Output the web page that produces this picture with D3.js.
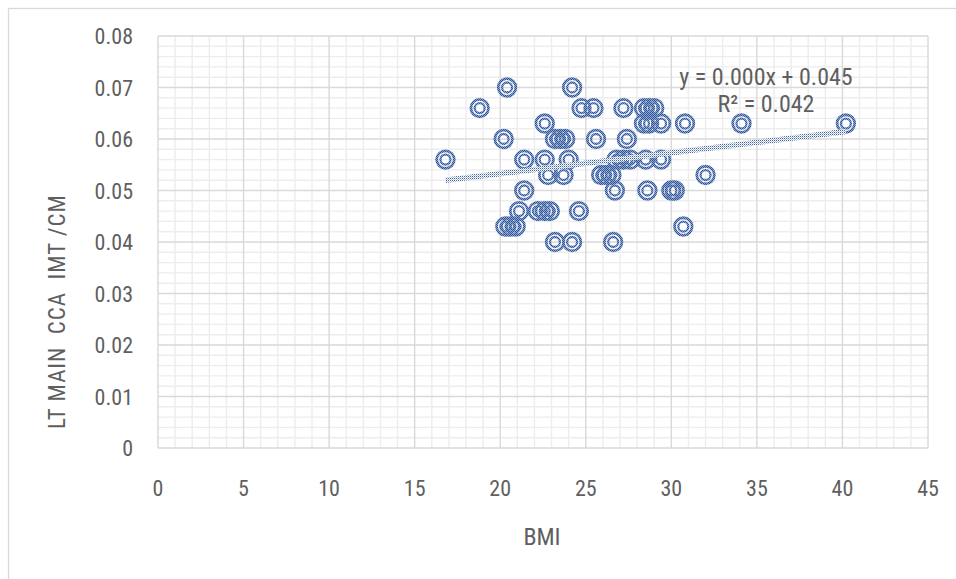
<!DOCTYPE html>
<html>
<head>
<meta charset="utf-8">
<script src="https://cdn.jsdelivr.net/npm/d3@7"></script>
<style>
  html, body { margin: 0; padding: 0; background: #fff; }
  svg { display: block; }
  text { font-family: "Liberation Sans Narrow", "Roboto Condensed", "Arial Narrow", Roboto, sans-serif; fill: #5f5f5f; white-space: pre; font-weight: 400; }
</style>
</head>
<body>
<svg id="chart" width="956" height="579"></svg>
<script>
// ---- data ----
const bmi = [
  20.4, 24.2,
  18.8, 24.75, 25.45, 27.2, 28.4, 28.7, 29.0,
  22.6, 28.4, 28.7, 29.4, 30.8, 34.1, 40.2,
  20.2, 23.2, 23.5, 23.8, 25.6, 27.4,
  16.8, 21.4, 22.6, 24.0, 26.8, 27.2, 27.6, 28.5, 29.4,
  22.8, 23.7, 25.9, 26.2, 26.5, 32.0,
  21.4, 26.7, 28.6, 30.0, 30.2,
  21.1, 22.2, 22.6, 22.9, 24.6,
  20.3, 20.6, 20.9, 30.7,
  23.2, 24.2, 26.6
];
const imt = [
  0.070, 0.070,
  0.066, 0.066, 0.066, 0.066, 0.066, 0.066, 0.066,
  0.063, 0.063, 0.063, 0.063, 0.063, 0.063, 0.063,
  0.060, 0.060, 0.060, 0.060, 0.060, 0.060,
  0.056, 0.056, 0.056, 0.056, 0.056, 0.056, 0.056, 0.056, 0.056,
  0.053, 0.053, 0.053, 0.053, 0.053, 0.053,
  0.050, 0.050, 0.050, 0.050, 0.050,
  0.046, 0.046, 0.046, 0.046, 0.046,
  0.043, 0.043, 0.043, 0.043,
  0.040, 0.040, 0.040
];
const xTicks = [0, 5, 10, 15, 20, 25, 30, 35, 40, 45];
const yTicks = [0, 0.01, 0.02, 0.03, 0.04, 0.05, 0.06, 0.07, 0.08];
const yTickLabels = ["0", "0.01", "0.02", "0.03", "0.04", "0.05", "0.06", "0.07", "0.08"];
const trendSlope = 0.000404;
const trendIntercept = 0.0452;
const equationLines = ["y = 0.000x + 0.045", "R² = 0.042"];
const xTitle = "BMI";
const yTitle = "LT MAIN  CCA  IMT /CM";

// ---- drawing ----
const svg = d3.select("#chart");
const x = d3.scaleLinear().domain([0, 45]).range([158, 928]);
const y = d3.scaleLinear().domain([0, 0.08]).range([448, 36]);

const defs = svg.append("defs");
const pm = defs.append("pattern").attr("id", "stipMarker")
  .attr("patternUnits", "userSpaceOnUse").attr("width", 2).attr("height", 2);
pm.append("rect").attr("width", 2).attr("height", 2).attr("fill", "#8ea6cf");
pm.append("rect").attr("x", 0).attr("y", 0).attr("width", 1).attr("height", 1).attr("fill", "#2F5597");
pm.append("rect").attr("x", 1).attr("y", 1).attr("width", 1).attr("height", 1).attr("fill", "#2F5597");

const pt = defs.append("pattern").attr("id", "stipTrend")
  .attr("patternUnits", "userSpaceOnUse").attr("width", 2).attr("height", 2);
pt.append("rect").attr("width", 2).attr("height", 2).attr("fill", "#ffffff");
pt.append("rect").attr("x", 0).attr("y", 0).attr("width", 1).attr("height", 1).attr("fill", "#3d63a3");
pt.append("rect").attr("x", 1).attr("y", 1).attr("width", 1).attr("height", 1).attr("fill", "#a9bbdc");

// outer chart border
svg.append("rect").attr("x", 8.5).attr("y", 8.5).attr("width", 1200).attr("height", 1200)
  .attr("fill", "none").attr("stroke", "#d9d9d9").attr("stroke-width", 1.3);

// minor gridlines
const minorX = d3.range(0, 46, 1).filter(v => v % 5 !== 0);
const minorY = d3.range(0, 41, 1).filter(v => v % 5 !== 0).map(v => v * 0.002);
const grid = svg.append("g");
grid.selectAll("line.mx").data(minorX).join("line")
  .attr("x1", d => x(d)).attr("x2", d => x(d)).attr("y1", y(0)).attr("y2", y(0.08))
  .attr("stroke", "#ededed").attr("stroke-width", 1.4);
grid.selectAll("line.my").data(minorY).join("line")
  .attr("y1", d => y(d)).attr("y2", d => y(d)).attr("x1", x(0)).attr("x2", x(45))
  .attr("stroke", "#ededed").attr("stroke-width", 1.4);
// major gridlines
grid.selectAll("line.Mx").data(xTicks).join("line")
  .attr("x1", d => x(d)).attr("x2", d => x(d)).attr("y1", y(0)).attr("y2", y(0.08))
  .attr("stroke", "#d9d9d9").attr("stroke-width", 1.4);
grid.selectAll("line.My").data(yTicks).join("line")
  .attr("y1", d => y(d)).attr("y2", d => y(d)).attr("x1", x(0)).attr("x2", x(45))
  .attr("stroke", "#d9d9d9").attr("stroke-width", 1.4);

// tick labels
svg.append("g").selectAll("text").data(yTicks).join("text")
  .attr("x", 133).attr("y", d => y(d) + 8)
  .attr("text-anchor", "end").attr("font-size", 22)
  .text((d, i) => yTickLabels[i]);
svg.append("g").selectAll("text").data(xTicks).join("text")
  .attr("x", d => x(d)).attr("y", 496)
  .attr("text-anchor", "middle").attr("font-size", 22)
  .text(d => d);

// axis titles
svg.append("text").attr("x", 542).attr("y", 545).attr("text-anchor", "middle")
  .attr("font-size", 24).text(xTitle);
svg.append("text").attr("transform", "translate(65,312) rotate(-90)")
  .attr("text-anchor", "middle").attr("font-size", 23)
  .attr("textLength", 234).attr("lengthAdjust", "spacing").text(yTitle);

// markers
const pts = bmi.map((b, i) => ({ b: b, v: imt[i] }));
const mk = svg.append("g");
pts.forEach(p => {
  mk.append("circle").attr("cx", x(p.b)).attr("cy", y(p.v)).attr("r", 8.8)
    .attr("fill", "none").attr("stroke", "url(#stipMarker)").attr("stroke-width", 2.8);
  mk.append("circle").attr("cx", x(p.b)).attr("cy", y(p.v)).attr("r", 5)
    .attr("fill", "none").attr("stroke", "url(#stipMarker)").attr("stroke-width", 2.3);
});

// trendline
const xMin = d3.min(bmi), xMax = d3.max(bmi);
svg.append("line")
  .attr("x1", x(xMin)).attr("y1", y(trendIntercept + trendSlope * xMin))
  .attr("x2", x(xMax)).attr("y2", y(trendIntercept + trendSlope * xMax))
  .attr("stroke", "url(#stipTrend)").attr("stroke-width", 5.5);

// equation
svg.append("text").attr("x", 766).attr("y", 85).attr("text-anchor", "middle")
  .attr("font-size", 24).text(equationLines[0]);
svg.append("text").attr("x", 766).attr("y", 112).attr("text-anchor", "middle")
  .attr("font-size", 24).text(equationLines[1]);
</script>
</body>
</html>
